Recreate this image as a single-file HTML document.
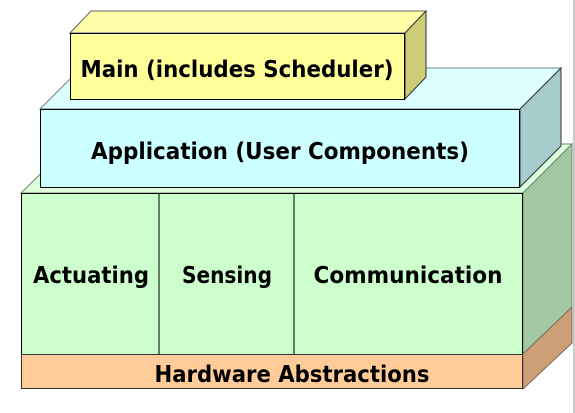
<!DOCTYPE html>
<html><head><style>html,body{margin:0;padding:0;background:#fff;}svg{display:block}</style></head>
<body>
<svg width="575" height="413" viewBox="0 0 575 413" xmlns="http://www.w3.org/2000/svg" font-family="'DejaVu Sans Condensed','DejaVu Sans','Liberation Sans',sans-serif" font-weight="bold" font-size="23">
<rect x="573" y="0" width="2" height="413" fill="#c8c8c8"/>
<!-- green block -->
<polygon points="21,193 71,144 572,144 523,193" fill="#ddffdd" stroke="#6a8a6a" stroke-width="1"/>
<polygon points="523,193 572,144 572,307 523,354" fill="#a3c9a3" stroke="#6a8a6a" stroke-width="1"/>
<rect x="21.5" y="193.5" width="501" height="161" fill="#ccffcc" stroke="#000" stroke-width="1"/>
<line x1="159" y1="193" x2="159" y2="354" stroke="#000"/>
<line x1="294" y1="193" x2="294" y2="354" stroke="#000"/>
<text x="91" y="283" text-anchor="middle" textLength="116" lengthAdjust="spacingAndGlyphs">Actuating</text>
<text x="227" y="283" text-anchor="middle" textLength="90" lengthAdjust="spacingAndGlyphs">Sensing</text>
<text x="408" y="283" text-anchor="middle" textLength="189" lengthAdjust="spacingAndGlyphs">Communication</text>
<!-- hardware -->
<polygon points="523,354 572,307 572,343 523,389" fill="#cc9f77" stroke="#7a6a5a" stroke-width="1"/>
<rect x="21.5" y="354.5" width="501" height="34" fill="#ffcc99" stroke="#333" stroke-width="1"/>
<text x="292" y="382" text-anchor="middle" textLength="275" lengthAdjust="spacingAndGlyphs">Hardware Abstractions</text>
<!-- application -->
<polygon points="40,109 81,68 561,68 520,109" fill="#ddffff" stroke="#6a8a8a" stroke-width="1"/>
<polygon points="520,109 561,68 561,146 520,187" fill="#a6cccc" stroke="#333" stroke-width="1"/>
<rect x="40.5" y="109.5" width="479" height="78" fill="#ccffff" stroke="#000" stroke-width="1"/>
<text x="280" y="159" text-anchor="middle" textLength="378" lengthAdjust="spacingAndGlyphs">Application (User Components)</text>
<!-- main -->
<polygon points="70,33 91,11 426,11 405,33" fill="#ffffaa" stroke="#666" stroke-width="1"/>
<polygon points="405,33 426,11 426,77 405,99" fill="#cccc77" stroke="#333" stroke-width="1"/>
<rect x="70.5" y="33.5" width="334" height="66" fill="#ffff99" stroke="#000" stroke-width="1"/>
<text x="237" y="77" text-anchor="middle" textLength="313" lengthAdjust="spacingAndGlyphs">Main (includes Scheduler)</text>
</svg>
</body></html>
